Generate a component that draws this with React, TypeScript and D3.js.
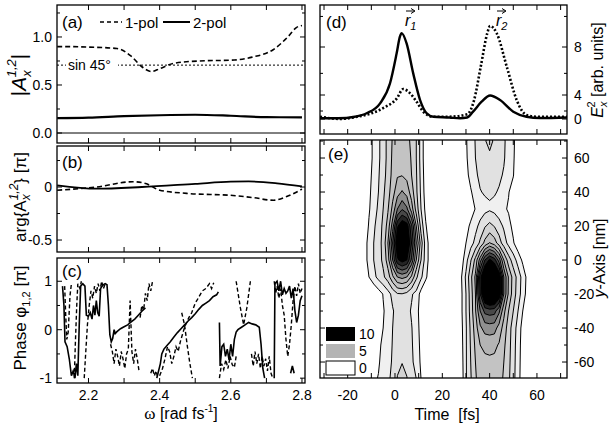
import React, { useRef, useEffect } from 'react';
import * as d3 from 'd3';

// ---------- (a) amplitude |A_x^{1,2}| ----------
const ampPol1W = [2.112, 2.13, 2.2, 2.28, 2.32, 2.35, 2.378, 2.4, 2.44, 2.51, 2.61, 2.66, 2.72, 2.76, 2.785, 2.8];
const ampPol1 = [0.9, 0.9, 0.895, 0.88, 0.8, 0.69, 0.64, 0.67, 0.725, 0.75, 0.76, 0.79, 0.87, 1.0, 1.1, 1.12];
const ampPol2W = [2.112, 2.2, 2.3, 2.4, 2.5, 2.6, 2.7, 2.8];
const ampPol2 = [0.155, 0.16, 0.175, 0.185, 0.19, 0.18, 0.165, 0.163];
const sin45Level = 0.707;

// ---------- (b) arg{A_x^{1,2}} ----------
const argPol1W = [2.112, 2.223, 2.325, 2.363, 2.4, 2.476, 2.606, 2.663, 2.72, 2.757, 2.8];
const argPol1 = [-0.03, 0, 0.05, 0.03, -0.03, -0.06, -0.08, -0.1, -0.125, -0.09, -0.02];
const argPol2W = [2.112, 2.223, 2.35, 2.5, 2.6, 2.65, 2.73, 2.8];
const argPol2 = [0.016, -0.016, 0, 0.03, 0.05, 0.053, 0.035, 0.006];

// ---------- (c) phase, null = wrap / break ----------
type P = [number, number] | null;
const phaseSolid: P[] = [
  [2.127, 0.9], [2.131, 0.5], [2.134, -0.25], [2.14, -0.35], [2.146, -0.6], [2.152, -0.95], [2.157, -0.85], [2.162, -1.0],
  [2.166, -0.7], [2.17, -0.95], [2.174, 0.1], [2.178, 0.9], [2.184, 0.95], [2.19, 0.9], [2.194, 0.3], [2.2, 0.28],
  [2.205, 0.35], [2.21, 0.22], [2.214, 0.5], [2.218, 0.3], [2.222, 0.6], [2.226, 0.35], [2.23, 0.28], [2.234, 0.85],
  [2.24, 0.92], [2.247, 0.95], [2.252, 0.93], [2.256, 0.5], [2.26, -0.1], [2.264, -0.25], [2.268, -0.18], [2.272, 0.0],
  [2.275, -0.08], [2.28, -0.04], [2.29, 0.02], [2.3, 0.06], [2.31, 0.1], [2.32, 0.16], [2.33, 0.22], [2.34, 0.3],
  [2.35, 0.38], [2.36, 0.45], null,
  [2.392, -1.0], [2.397, -0.85], [2.402, -0.7], [2.406, -0.5], [2.412, -0.4], [2.42, -0.33], [2.43, -0.25], [2.44, -0.15],
  [2.45, -0.06], [2.46, 0.02], [2.47, 0.1], [2.48, 0.18], [2.49, 0.25], [2.5, 0.33], [2.51, 0.42], [2.52, 0.5],
  [2.53, 0.55], [2.54, 0.6], [2.55, 0.68], [2.56, 0.72], [2.565, 0.78], null,
  [2.568, 0.15], [2.57, -0.75], [2.575, -0.35], [2.58, -0.3], [2.585, -0.55], [2.59, -0.4], [2.595, -0.62], [2.6, -0.3],
  [2.605, -0.55], [2.61, -0.2], [2.615, -0.05], [2.62, 0.0], [2.63, 0.05], [2.64, 0.1], [2.65, 0.15], [2.66, 0.12],
  [2.67, 0.1], [2.68, 0.05], [2.685, -0.3], [2.69, -0.8], [2.695, -1.0], null,
  [2.722, -1.0], [2.724, 0.95], [2.73, 1.0], [2.735, 0.8], [2.74, 1.0], [2.745, 0.72], [2.75, 0.85], [2.755, 0.75],
  [2.76, 0.8], [2.765, 0.9], [2.77, 0.65], [2.775, 0.85], [2.78, 0.4], [2.785, 0.15], [2.79, 0.3], [2.795, 0.6], [2.8, 0.7], null,
  [2.768, -0.9], [2.773, -0.75], [2.778, -0.9],
];
const phaseDashed: P[] = [
  [2.133, 0.9], [2.136, 0.3], [2.139, -0.2], [2.143, -0.05], [2.148, 0.7], [2.152, 0.95], null,
  [2.16, -1.0], [2.163, -0.3], [2.167, 0.5], [2.17, 0.95], [2.176, 0.85], [2.18, 1.0], null,
  [2.188, -1.0], [2.192, -0.5], [2.197, 0.1], [2.202, 0.5], [2.207, 0.8], [2.212, 0.65], [2.217, 0.9], [2.222, 0.75],
  [2.227, 0.95], [2.232, 0.8], [2.237, 1.0], [2.242, 0.85], [2.247, 0.95], null,
  [2.262, -0.3], [2.267, -0.45], [2.272, -0.7], [2.277, -0.4], [2.282, -0.55], [2.287, -0.75], [2.292, -0.45], [2.297, -0.6],
  [2.302, -0.8], [2.307, -0.5], [2.312, -0.4], [2.317, 0.6], [2.322, -0.45], [2.327, -0.7], [2.332, -0.4], [2.337, -0.6], [2.342, -0.85], null,
  [2.345, 0.25], [2.35, 0.5], [2.355, 0.4], [2.36, 0.75], [2.365, 0.6], [2.37, 0.95], [2.375, 0.8], [2.38, 1.0], null,
  [2.375, -0.9], [2.38, -0.8], [2.385, -0.95], [2.39, -0.85], [2.395, -1.0], null,
  [2.4, -0.95], [2.408, -0.8], [2.415, -0.6], [2.422, -0.35], [2.428, -0.45], [2.434, -0.7], [2.44, -0.55], [2.446, -0.35],
  [2.452, -0.45], [2.458, -0.25], [2.464, -0.1], [2.47, 0.05], [2.476, 0.15], [2.482, 0.25], [2.49, 0.35], [2.5, 0.55],
  [2.506, 0.62], [2.512, 0.7], [2.52, 0.8], [2.53, 0.85], [2.54, 0.95], [2.546, 0.85], [2.552, 0.97], null,
  [2.462, 0.35], [2.47, 0.1], [2.478, -0.35], [2.485, -0.7], [2.492, -1.0], null,
  [2.568, -1.0], [2.574, -0.7], [2.58, -0.82], [2.586, -0.62], [2.592, -0.8], [2.598, -0.55], [2.604, -0.72], [2.61, -0.78], [2.616, -0.5], null,
  [2.615, 1.0], [2.627, 0.45], [2.636, 0.1], [2.645, 0.45], [2.655, 1.0], null,
  [2.658, -0.5], [2.663, -0.75], [2.668, -0.45], [2.673, -0.7], [2.678, -0.5], [2.683, -0.8], [2.688, -0.55], [2.693, -0.75],
  [2.698, -0.6], [2.703, -0.85], [2.708, -0.55], [2.713, -0.9], [2.718, -1.0], null,
  [2.722, 1.0], [2.726, 0.75], [2.73, 0.9], [2.735, 0.65], [2.74, 0.85], [2.745, 0.5], [2.75, 0.3], [2.755, -0.2],
  [2.76, -0.55], [2.765, -0.3], [2.77, 0.1], [2.775, 0.6], [2.78, 0.9], [2.785, 0.7], [2.79, 0.95], [2.795, 0.75], [2.8, 0.85],
];

// ---------- (d) E_x^2 vs time ----------
const fieldSolidT = [-31.7, -24, -17, -12, -6.3, -2.1, 0.7, 2.1, 2.8, 4.9, 7.7, 10.6, 13.4, 16.2, 23, 27.5, 30.5, 33, 36.6, 40.2, 44.4, 50, 55.6, 61.3, 72.7];
const fieldSolid = [0.43, 0.43, 0.91, 1.62, 3.06, 5.14, 7.55, 8.72, 8.94, 8.25, 6.0, 3.45, 1.62, 0.91, 0.69, 0.43, 0.69, 1.89, 3.25, 3.95, 3.45, 1.89, 0.91, 0.53, 0.69];
const fieldDotT = [-31.7, -23, -16, -10, -4.7, 0.7, 3.5, 6.3, 9.2, 12, 16, 23, 30.6, 33.4, 36.2, 39, 40.2, 43, 47.3, 51.5, 55.6, 60, 72.7];
const fieldDot = [0.91, 0.1, 0.91, 1.6, 2.49, 3.6, 4.6, 4.2, 3.22, 1.87, 0.91, 0.91, 1.45, 3.4, 6.5, 8.93, 9.41, 8.93, 6.5, 3.4, 1.29, 0.91, 0.91];
const fieldLabels = [0, 4, 8];
const fieldMinor = [2, 6, 10];

// ---------- (e) contour map ----------
const gridY = [70, 60, 50, 40, 30, 20, 10, 0, -10, -20, -30, -40, -50, -60, -70];
const blob1T = [-15, -13, -11, -9, -7, -5, -3, -1, 1, 3, 5, 7, 9, 11, 13, 15, 17];
const blob1 = [
  [0, 0, 0.6, 1.2, 1.8, 2.5, 3.3, 4.1, 4.5, 4.5, 4.3, 3.8, 3.0, 1.6, 0.3, 0, 0],
  [0, 0, 0.6, 1.2, 1.8, 2.5, 3.3, 4.2, 4.7, 4.8, 4.5, 3.9, 3.0, 1.6, 0.3, 0, 0],
  [0, 0, 0.7, 1.3, 1.9, 2.6, 3.4, 4.3, 4.9, 4.95, 4.7, 4.0, 3.1, 1.7, 0.4, 0, 0],
  [0, 0, 0.8, 1.4, 2.0, 2.8, 3.6, 4.6, 5.6, 6.1, 5.6, 4.5, 3.2, 1.8, 0.5, 0, 0],
  [0, 0, 0.9, 1.5, 2.2, 3.0, 3.9, 5.3, 7.0, 7.9, 7.2, 5.5, 3.6, 2.0, 0.7, 0, 0],
  [0, 0.3, 1.1, 1.8, 2.5, 3.2, 4.4, 6.5, 9.8, 11.0, 10.6, 8.2, 5.0, 2.6, 1.1, 0.2, 0],
  [0, 0.6, 1.3, 2.0, 2.6, 3.3, 5.0, 8.0, 11.0, 12.0, 11.5, 9.0, 6.0, 3.5, 1.5, 0.5, 0],
  [0, 0.6, 1.3, 2.0, 2.6, 3.2, 4.5, 7.0, 9.8, 10.5, 10.0, 7.8, 5.0, 3.0, 1.5, 0.5, 0],
  [0, 0.3, 1.0, 1.7, 2.3, 2.8, 3.5, 4.8, 6.0, 6.3, 6.0, 4.8, 3.2, 2.2, 1.2, 0.3, 0],
  [0, 0, 0, 0, 0.5, 1.05, 1.6, 2.3, 2.9, 2.95, 2.7, 2.1, 1.7, 0.6, 0, 0, 0],
  [0, 0, 0, 0, 0.4, 0.9, 1.4, 1.9, 2.4, 2.5, 2.3, 1.9, 1.4, 0.5, 0, 0, 0],
  [0, 0, 0, 0, 0.6, 1.0, 1.5, 2.0, 2.5, 2.6, 2.4, 2.05, 1.5, 0.6, 0, 0, 0],
  [0, 0, 0, 0, 0.8, 1.2, 1.6, 2.05, 2.6, 2.75, 2.55, 2.1, 1.6, 0.7, 0, 0, 0],
  [0, 0, 0, 0, 0.9, 1.3, 1.7, 2.1, 2.8, 2.98, 2.75, 2.15, 1.7, 0.8, 0, 0, 0],
  [0, 0, 0, 0.85, 1.05, 1.5, 1.85, 2.2, 3.05, 3.2, 3.05, 2.3, 2.0, 1.0, 0, 0, 0],
];
const blob2T = [24, 26, 28, 30, 32, 34, 36, 38, 40, 42, 44, 46, 48, 50, 52, 54, 56, 58];
const blob2 = [
  [0, 0, 0, 0.9, 1.5, 2.05, 2.5, 2.95, 3.2, 2.9, 2.6, 2.15, 1.6, 1.2, 0.4, 0, 0, 0],
  [0, 0, 0, 0.85, 1.45, 2.0, 2.4, 2.7, 2.85, 2.7, 2.45, 2.1, 1.55, 1.15, 0.3, 0, 0, 0],
  [0, 0, 0, 0.7, 1.3, 1.85, 2.2, 2.45, 2.55, 2.45, 2.2, 1.9, 1.4, 1.05, 0.2, 0, 0, 0],
  [0, 0, 0, 0.4, 0.9, 1.4, 1.95, 2.1, 2.15, 2.1, 1.9, 1.5, 1.05, 0.6, 0, 0, 0, 0],
  [0, 0, 0, 0, 0.5, 1.05, 1.45, 1.7, 1.85, 1.7, 1.45, 1.15, 0.9, 0.3, 0, 0, 0, 0],
  [0, 0, 0, 0.6, 1.2, 1.7, 2.3, 2.9, 3.3, 2.95, 2.4, 1.85, 1.3, 0.75, 0.1, 0, 0, 0],
  [0, 0, 0.3, 1.0, 1.6, 2.3, 3.2, 4.3, 5.05, 4.5, 3.5, 2.5, 1.7, 1.1, 0.4, 0, 0, 0],
  [0, 0, 0.5, 1.6, 2.9, 4.3, 6.5, 9.0, 10.2, 9.5, 7.5, 5.0, 3.5, 2.5, 1.6, 0.8, 0.1, 0],
  [0, 0, 0.9, 2.2, 3.7, 5.2, 9.5, 12, 12.5, 12.3, 11, 7, 4.9, 3.6, 2.6, 1.6, 0.7, 0],
  [0, 0, 0.8, 2.0, 3.5, 5.0, 9.0, 12.0, 13.0, 12.6, 11.0, 7.0, 4.8, 3.5, 2.5, 1.5, 0.6, 0],
  [0, 0, 0.8, 2.0, 3.4, 4.9, 7.0, 8.3, 8.5, 8.4, 7.2, 5.3, 4.0, 3.0, 2.0, 1.0, 0.2, 0],
  [0, 0, 0.7, 1.9, 3.2, 4.5, 5.8, 6.4, 6.5, 6.4, 5.6, 4.6, 3.5, 2.5, 1.6, 0.6, 0, 0],
  [0, 0, 0.6, 1.9, 3.1, 4.2, 5.0, 5.25, 5.3, 5.25, 4.9, 4.2, 3.4, 2.4, 1.5, 0.5, 0, 0],
  [0, 0, 0.5, 1.9, 3.0, 4.0, 4.6, 4.75, 4.8, 4.75, 4.6, 4.0, 3.3, 2.35, 1.45, 0.45, 0, 0],
  [0, 0, 0.4, 1.9, 2.9, 3.9, 4.4, 4.5, 4.5, 4.5, 4.3, 3.9, 3.2, 2.3, 1.4, 0.4, 0, 0],
];
const contourLevels = [1, 2, 3, 4, 5, 6, 7, 8, 9, 10];
const legendLevels = [10, 5, 0];

// tick values
const omegaTicks = [2.2, 2.3, 2.4, 2.5, 2.6, 2.7, 2.8];
const omegaLabels = [2.2, 2.4, 2.6, 2.8];
const timeTicks = [-30, -20, -10, 0, 10, 20, 30, 40, 50, 60, 70];
const timeLabels = [-20, 0, 20, 40, 60];
const yNmTicks = [-60, -50, -40, -30, -20, -10, 0, 10, 20, 30, 40, 50, 60, 70];
const yNmLabels = [-60, -40, -20, 0, 20, 40, 60];

const W = 616, H = 429;
const FONT = '"Liberation Sans", Arial, sans-serif';

type Box = { x0: number; x1: number; y0: number; y1: number };
const boxA: Box = { x0: 57, x1: 305, y0: 5, y1: 143 };
const boxB: Box = { x0: 57, x1: 305, y0: 146, y1: 252 };
const boxC: Box = { x0: 57, x1: 305, y0: 258, y1: 383 };
const boxD: Box = { x0: 320, x1: 567, y0: 5, y1: 134 };
const boxE: Box = { x0: 320, x1: 567, y0: 140, y1: 378 };

const App = () => {
  const svgRef = useRef<SVGSVGElement>(null);

  useEffect(() => {
    if (!svgRef.current) return;
    const svg = d3.select(svgRef.current);
    svg.selectAll('*').remove();
    const defs = svg.append('defs');

    const xW = d3.scaleLinear().domain([2.1115, 2.8085]).range([boxA.x0, boxA.x1]);
    const xT = d3.scaleLinear().domain([-31.7, 72.7]).range([boxD.x0, boxD.x1]);
    const yA = d3.scaleLinear().domain([-0.104, 1.333]).range([boxA.y1, boxA.y0]);
    const yB = d3.scaleLinear().domain([-0.613, 0.387]).range([boxB.y1, boxB.y0]);
    const yC = d3.scaleLinear().domain([-1.1, 1.48]).range([boxC.y1, boxC.y0]);
    // the E_x^2 axis of the original is not evenly spaced (0, 4, 8)
    const yD = d3.scalePow().exponent(1.585).domain([0, 8]).range([119, 47]);
    const yE = d3.scaleLinear().domain([-69.4, 70.6]).range([boxE.y1, boxE.y0]);

    const clip = (id: string, b: Box) => {
      defs.append('clipPath').attr('id', id).append('rect')
        .attr('x', b.x0).attr('y', b.y0).attr('width', b.x1 - b.x0).attr('height', b.y1 - b.y0);
      return svg.append('g').attr('clip-path', `url(#${id})`);
    };

    const text = (x: number, y: number, s: string, size = 14, anchor = 'start') =>
      svg.append('text').attr('x', x).attr('y', y).attr('font-family', FONT)
        .attr('font-size', size).attr('text-anchor', anchor).attr('fill', '#000').text(s);

    // inward tick marks on the frame
    const ticks = (b: Box, xs: any, ys: any,
      xMaj: number[], xMin: number[], yMaj: number[], yMin: number[]) => {
      const g = svg.append('g').attr('stroke', '#000').attr('stroke-width', 1);
      const xl = (v: number[], len: number) => v.forEach(t => {
        const px = xs(t);
        g.append('line').attr('x1', px).attr('x2', px).attr('y1', b.y1).attr('y2', b.y1 - len);
        g.append('line').attr('x1', px).attr('x2', px).attr('y1', b.y0).attr('y2', b.y0 + len);
      });
      const yl = (v: number[], len: number) => v.forEach(t => {
        const py = ys(t);
        g.append('line').attr('y1', py).attr('y2', py).attr('x1', b.x0).attr('x2', b.x0 + len);
        g.append('line').attr('y1', py).attr('y2', py).attr('x1', b.x1).attr('x2', b.x1 - len);
      });
      xl(xMaj, 5); xl(xMin, 3); yl(yMaj, 5); yl(yMin, 3);
    };

    const frame = (b: Box) => svg.append('rect').attr('x', b.x0).attr('y', b.y0)
      .attr('width', b.x1 - b.x0).attr('height', b.y1 - b.y0)
      .attr('fill', 'none').attr('stroke', '#000').attr('stroke-width', 1.3);

    const lineXY = (xs: any, ys: any) => d3.line<[number, number]>().x(d => xs(d[0])).y(d => ys(d[1]));
    const zipXY = (a: number[], b: number[]) => a.map((v, i) => [v, b[i]] as [number, number]);

    // ======== (a) ========
    const gA = clip('clipA', boxA);
    gA.append('line').attr('x1', boxA.x0).attr('x2', boxA.x1).attr('y1', yA(0)).attr('y2', yA(0))
      .attr('stroke', '#000').attr('stroke-width', 1);
    gA.append('line').attr('x1', boxA.x0).attr('x2', boxA.x1).attr('y1', yA(sin45Level)).attr('y2', yA(sin45Level))
      .attr('stroke', '#000').attr('stroke-width', 1).attr('stroke-dasharray', '2,2');
    gA.append('path').attr('d', lineXY(xW, yA).curve(d3.curveMonotoneX)(zipXY(ampPol1W, ampPol1)))
      .attr('fill', 'none').attr('stroke', '#000').attr('stroke-width', 1.6).attr('stroke-dasharray', '5,3');
    gA.append('path').attr('d', lineXY(xW, yA).curve(d3.curveMonotoneX)(zipXY(ampPol2W, ampPol2)))
      .attr('fill', 'none').attr('stroke', '#000').attr('stroke-width', 2.2);
    gA.append('rect').attr('x', 66).attr('y', yA(sin45Level) - 8).attr('width', 52).attr('height', 16).attr('fill', '#fff');
    gA.append('text').attr('x', 68).attr('y', yA(sin45Level) + 5).attr('font-family', FONT).attr('font-size', 14).text('sin 45°');
    frame(boxA);
    ticks(boxA, xW, yA, omegaTicks, [], [0, 0.5, 1.0], [0.25, 0.75, 1.25]);
    text(62, 28, '(a)', 17);
    svg.append('line').attr('x1', 100).attr('x2', 122).attr('y1', 22).attr('y2', 22)
      .attr('stroke', '#000').attr('stroke-width', 1.6).attr('stroke-dasharray', '4,3');
    text(125, 28, '1-pol', 15);
    svg.append('line').attr('x1', 163).attr('x2', 190).attr('y1', 22).attr('y2', 22)
      .attr('stroke', '#000').attr('stroke-width', 2);
    text(193, 28, '2-pol', 15);
    [0, 0.5, 1.0].forEach(v => text(52, yA(v) + 5, v.toFixed(1), 14, 'end'));

    // ======== (b) ========
    const gB = clip('clipB', boxB);
    gB.append('path').attr('d', lineXY(xW, yB).curve(d3.curveMonotoneX)(zipXY(argPol1W, argPol1)))
      .attr('fill', 'none').attr('stroke', '#000').attr('stroke-width', 1.6).attr('stroke-dasharray', '5,3');
    gB.append('path').attr('d', lineXY(xW, yB).curve(d3.curveMonotoneX)(zipXY(argPol2W, argPol2)))
      .attr('fill', 'none').attr('stroke', '#000').attr('stroke-width', 1.8);
    frame(boxB);
    ticks(boxB, xW, yB, omegaTicks, [], [0, -0.5], [0.25, -0.25]);
    text(62, 168, '(b)', 17);
    text(52, yB(0) + 5, '0', 14, 'end');
    text(52, yB(-0.5) + 5, '-0.5', 14, 'end');

    // ======== (c) ========
    const gC = clip('clipC', boxC);
    const phaseLine = d3.line<P>().defined(d => d !== null)
      .x(d => xW((d as [number, number])[0])).y(d => yC((d as [number, number])[1]));
    gC.append('path').attr('d', phaseLine(phaseDashed)).attr('fill', 'none').attr('stroke', '#000')
      .attr('stroke-width', 1.4).attr('stroke-dasharray', '4,2.5');
    gC.append('path').attr('d', phaseLine(phaseSolid)).attr('fill', 'none').attr('stroke', '#000')
      .attr('stroke-width', 1.6);
    frame(boxC);
    ticks(boxC, xW, yC, omegaTicks, [], [-1, 0, 1], [-0.5, 0.5]);
    text(62, 277, '(c)', 17);
    [1, 0, -1].forEach(v => text(52, yC(v) + 5, String(v), 14, 'end'));
    omegaLabels.forEach(v => text(xW(v), 400, v.toFixed(1), 14, 'middle'));

    // left axis titles
    const rot = (x: number, y: number, size = 16) =>
      svg.append('text').attr('transform', `translate(${x},${y}) rotate(-90)`).attr('font-family', FONT)
        .attr('font-size', size).attr('text-anchor', 'middle');
    const tA = rot(26, 75, 21);
    tA.append('tspan').text('|');
    tA.append('tspan').attr('font-style', 'italic').text('A');
    tA.append('tspan').attr('font-style', 'italic').attr('font-size', 13).attr('dy', 5).text('x');
    tA.append('tspan').attr('font-style', 'italic').attr('font-size', 13).attr('dx', -7).attr('dy', -15).text('1,2');
    tA.append('tspan').attr('dy', 10).text('|');
    const tB = rot(26, 197, 17);
    tB.append('tspan').text('arg{A');
    tB.append('tspan').attr('font-size', 12).attr('dy', 4).attr('font-style', 'italic').text('x');
    tB.append('tspan').attr('font-size', 12).attr('dx', -6).attr('dy', -12).attr('font-style', 'italic').text('1,2');
    tB.append('tspan').attr('dy', 8).text('} [π]');
    const tC = rot(26, 318, 17);
    tC.append('tspan').text('Phase φ');
    tC.append('tspan').attr('font-size', 11).attr('dy', 4).text('1,2');
    tC.append('tspan').attr('dy', -4).text(' [π]');
    const tW = svg.append('text').attr('x', 181).attr('y', 419).attr('text-anchor', 'middle')
      .attr('font-family', FONT).attr('font-size', 16);
    tW.append('tspan').attr('font-family', '"Liberation Serif", serif').attr('font-size', 17).text('ω');
    tW.append('tspan').text(' [rad fs');
    tW.append('tspan').attr('font-size', 10).attr('dy', -7).text('-1');
    tW.append('tspan').attr('dy', 7).text(']');

    // ======== (d) ========
    const gD = clip('clipD', boxD);
    gD.append('path').attr('d', lineXY(xT, yD).curve(d3.curveMonotoneX)(zipXY(fieldDotT, fieldDot)))
      .attr('fill', 'none').attr('stroke', '#000').attr('stroke-width', 2.6).attr('stroke-dasharray', '2,2');
    gD.append('path').attr('d', lineXY(xT, yD).curve(d3.curveMonotoneX)(zipXY(fieldSolidT, fieldSolid)))
      .attr('fill', 'none').attr('stroke', '#000').attr('stroke-width', 2.4);
    frame(boxD);
    ticks(boxD, xT, yD, timeTicks, [], fieldLabels, fieldMinor);
    fieldLabels.forEach(v => text(574, yD(v) + 5, String(v), 14));
    text(326, 28, '(d)', 17);
    const rvec = (x: number, sub: string) => {
      const t = svg.append('text').attr('x', x).attr('y', 26).attr('font-family', FONT).attr('font-size', 16);
      t.append('tspan').attr('font-style', 'italic').text('r');
      t.append('tspan').attr('font-style', 'italic').attr('font-size', 11).attr('dy', 4).text(sub);
      svg.append('line').attr('x1', x + 1).attr('x2', x + 9).attr('y1', 11).attr('y2', 11).attr('stroke', '#000').attr('stroke-width', 1);
      svg.append('path').attr('d', `M${x + 6},8.5 L${x + 10},11 L${x + 6},13.5`).attr('fill', 'none').attr('stroke', '#000').attr('stroke-width', 1);
    };
    rvec(405, '1');
    rvec(496, '2');
    const tD = rot(603, 70, 16);
    tD.append('tspan').attr('font-style', 'italic').text('E');
    tD.append('tspan').attr('font-style', 'italic').attr('font-size', 11).attr('dy', 4).text('x');
    tD.append('tspan').attr('font-size', 11).attr('dx', -6).attr('dy', -12).text('2');
    tD.append('tspan').attr('dy', 8).text(' [arb. units]');

    // ======== (e) ========
    const gE = clip('clipE', boxE);
    const grey = d3.scaleLinear<string>().domain([0, 5, 10]).range(['#ffffff', '#b4b4b4', '#000000']);
    const drawBlob = (times: number[], grid: number[][]) => {
      const nx = times.length, ny = gridY.length;
      const gx = d3.scaleLinear().domain([0.5, nx - 0.5]).range([xT(times[0]), xT(times[nx - 1])]);
      const gy = d3.scaleLinear().domain([0.5, ny - 0.5]).range([yE(gridY[0]), yE(gridY[ny - 1])]);
      const proj = d3.geoTransform({
        point(px: number, py: number) { (this as any).stream.point(gx(px), gy(py)); },
      });
      const path = d3.geoPath(proj);
      const polys = d3.contours().size([nx, ny]).thresholds(contourLevels)(grid.flat());
      gE.append('g').selectAll('path').data(polys).enter().append('path')
        .attr('d', d => path(d as any))
        .attr('fill', d => grey(d.value))
        .attr('stroke', '#000').attr('stroke-width', 1).attr('stroke-linejoin', 'round');
    };
    drawBlob(blob1T, blob1);
    drawBlob(blob2T, blob2);
    frame(boxE);
    ticks(boxE, xT, yE, timeTicks, [], yNmLabels, yNmTicks.filter(v => !yNmLabels.includes(v)));
    text(328, 160, '(e)', 17);
    yNmLabels.forEach(v => text(574, yE(v) + 5, String(v), 14));
    timeLabels.forEach(v => text(xT(v), 400, String(v), 14, 'middle'));
    // legend swatches
    legendLevels.forEach((v, i) => {
      const y = 327 + i * 17;
      svg.append('rect').attr('x', 326).attr('y', y).attr('width', 29).attr('height', 14)
        .attr('fill', grey(v)).attr('stroke', v === 0 ? '#000' : 'none').attr('stroke-width', 1);
      text(359, y + 12, String(v), 14);
    });
    const tE = rot(605, 258, 16);
    tE.append('tspan').attr('font-style', 'italic').text('y');
    tE.append('tspan').text('-Axis [nm]');
    text(447, 420, 'Time  [fs]', 16, 'middle').style('white-space', 'pre');
  }, []);

  return (
    <svg ref={svgRef} width={W} height={H}
      style={{ position: 'absolute', left: 0, top: 0, background: '#fff' }} />
  );
};

export default App;
